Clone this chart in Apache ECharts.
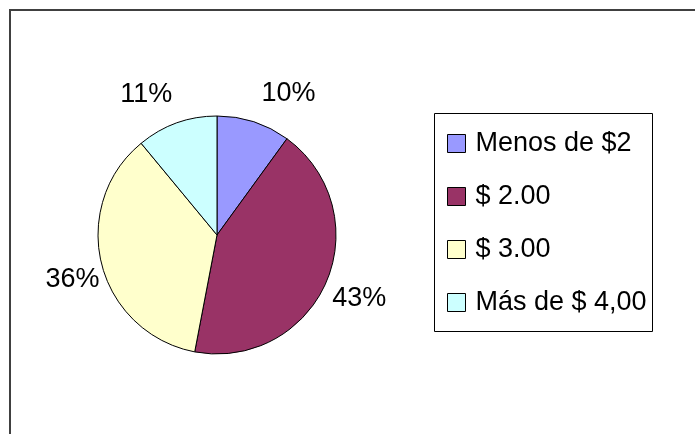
<!DOCTYPE html>
<html>
<head>
<meta charset="utf-8">
<script src="https://cdn.jsdelivr.net/npm/echarts@6/dist/echarts.min.js"></script>
<style>
  html, body { margin: 0; padding: 0; background: #fff; }
  #chart { width: 695px; height: 434px; }
</style>
</head>
<body>
<div id="chart"></div>
<script>
// datos
var categorias = ['Menos de $2', '$ 2.00', '$ 3.00', 'Más de $ 4,00'];
var valores = [10, 43, 36, 11];
var colores = ['#9999FF', '#993366', '#FFFFCC', '#CCFFFF'];

// ajuste fino de etiquetas (px) respecto a la posicion que calcula echarts
var ajusteEtiquetas = [[0, -5], [-17, 6], [22, 9], [4, -5]];

(function () {
    var myChart = echarts.init(document.getElementById('chart'), null, { renderer: 'canvas' });

    var datos = categorias.map(function (nombre, i) {
        return { name: nombre, value: valores[i], itemStyle: { color: colores[i] } };
    });

    var option = {
        backgroundColor: '#fff',
        animation: false,
        textStyle: { fontFamily: '"Liberation Sans", Arial, sans-serif' },
        // marcos
        graphic: [
            {
                type: 'rect',
                shape: { x: 10, y: 10, width: 720, height: 480 },
                style: { fill: 'none', stroke: '#404040', lineWidth: 2 },
                silent: true
            },
            {
                type: 'rect',
                shape: { x: 434.5, y: 113.5, width: 218, height: 218 },
                style: { fill: '#fff', stroke: '#000', lineWidth: 1 },
                silent: true,
                z: -1
            }
        ],
        legend: {
            orient: 'vertical',
            left: 447,
            top: 130,
            padding: 0,
            itemWidth: 18,
            itemHeight: 18,
            itemGap: 26,
            icon: 'rect',
            itemStyle: { borderColor: '#000', borderWidth: 1 },
            textStyle: {
                color: '#000',
                fontSize: 27,
                lineHeight: 27,
                fontFamily: '"Liberation Sans", Arial, sans-serif',
                padding: [0, 0, 0, 5]
            },
            data: categorias
        },
        series: [
            {
                type: 'pie',
                center: [217, 235],
                radius: 119,
                startAngle: 90,
                clockwise: true,
                avoidLabelOverlap: false,
                itemStyle: { borderColor: '#000', borderWidth: 1 },
                label: {
                    show: true,
                    position: 'outside',
                    formatter: '{d}%',
                    color: '#000',
                    fontSize: 27,
                    fontFamily: '"Liberation Sans", Arial, sans-serif',
                    distanceToLabelLine: 0
                },
                labelLine: { show: false, length: 25, length2: 0 },
                labelLayout: function (params) {
                    var a = ajusteEtiquetas[params.dataIndex];
                    return { dx: a[0], dy: a[1] };
                },
                emphasis: { disabled: true },
                data: datos
            }
        ]
    };

    myChart.setOption(option);
})();
</script>
</body>
</html>
